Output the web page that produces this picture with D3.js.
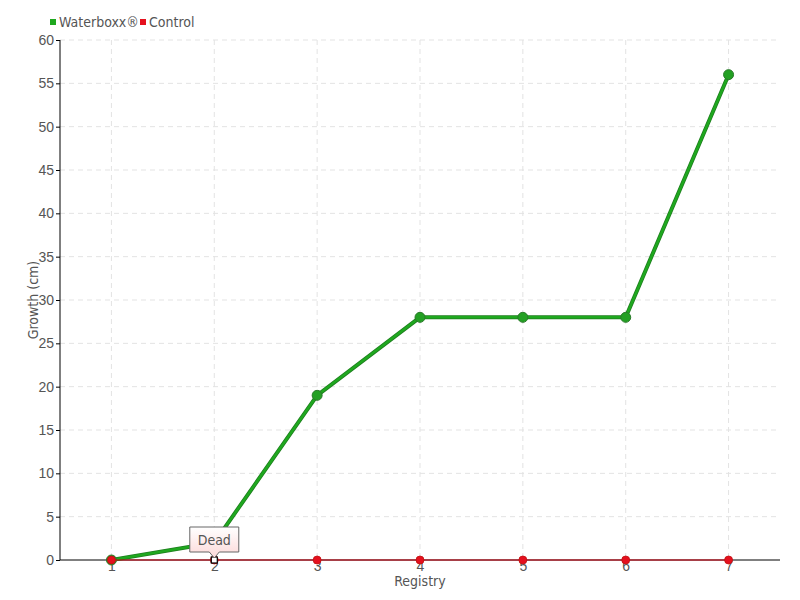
<!DOCTYPE html>
<html>
<head>
<meta charset="utf-8">
<script src="https://cdn.jsdelivr.net/npm/d3@7"></script>
<style>
  body { margin: 0; background: #fff; }
  svg { display: block; font-family: "DejaVu Sans Condensed", "DejaVu Sans", sans-serif; }
  .tick text { fill: #555; font-size: 14px; }
  .grid line { stroke: #e3e3e3; stroke-dasharray: 5,4; }
</style>
</head>
<body>
<div id="chart"></div>
<script>
var registry = [1, 2, 3, 4, 5, 6, 7];
var waterboxx = [0, 2, 19, 28, 28, 28, 56];
var control = [0, 0, 0, 0, 0, 0, 0];
var yTicks = [0, 5, 10, 15, 20, 25, 30, 35, 40, 45, 50, 55, 60];

var margin = {top: 40, right: 20, bottom: 40, left: 60};
var width = 800 - margin.left - margin.right;
var height = 600 - margin.top - margin.bottom;

var svg = d3.select("#chart").append("svg")
  .attr("width", 800).attr("height", 600)
  .append("g")
  .attr("transform", "translate(" + margin.left + "," + margin.top + ")");

var x = d3.scalePoint().domain(registry).range([0, width]).padding(0.5);
var y = d3.scaleLinear().domain([0, 60]).range([height, 0]);

// grid
svg.append("g").attr("class", "grid")
  .selectAll("line.h").data(yTicks.slice(1)).enter().append("line")
  .attr("x1", 0).attr("x2", width)
  .attr("y1", function(d){ return y(d); }).attr("y2", function(d){ return y(d); });
svg.append("g").attr("class", "grid")
  .selectAll("line.v").data(registry).enter().append("line")
  .attr("x1", function(d){ return x(d); }).attr("x2", function(d){ return x(d); })
  .attr("y1", 0).attr("y2", height);

// axes
var yAxis = svg.append("g").call(d3.axisLeft(y).tickValues(yTicks).tickSize(4).tickPadding(2));
yAxis.select(".domain").attr("stroke", "#000").attr("d", "M0,0V" + height);
yAxis.selectAll(".tick line").attr("stroke", "#000");

var xAxis = svg.append("g").attr("transform", "translate(0," + height + ")")
  .call(d3.axisBottom(x).tickSize(0).tickPadding(1));
xAxis.select(".domain").attr("stroke", "#000").attr("d", "M0,0H" + width);

svg.append("text").text("Registry")
  .attr("x", width / 2).attr("y", height + 26)
  .attr("text-anchor", "middle").attr("fill", "#555").style("font-size", "14px");
svg.append("text").text("Growth (cm)")
  .attr("transform", "rotate(-90)")
  .attr("x", -height / 2 + 0).attr("y", -22)
  .attr("text-anchor", "middle").attr("fill", "#555").style("font-size", "14px");

// series
var line = d3.line().x(function(d, i){ return x(registry[i]); }).y(function(d){ return y(d); });

svg.append("path").datum(waterboxx)
  .attr("fill", "none").attr("stroke", "#1e7d1e").attr("stroke-width", 4)
  .attr("d", line);
svg.append("path").datum(waterboxx)
  .attr("fill", "none").attr("stroke", "#1fa81f").attr("stroke-width", 2.5)
  .attr("d", line);
svg.selectAll("circle.wb").data(waterboxx).enter().append("circle")
  .attr("cx", function(d, i){ return x(registry[i]); })
  .attr("cy", function(d){ return y(d); })
  .attr("r", 5).attr("fill", "#23a023").attr("stroke", "#2a7a2a").attr("stroke-width", 1);

svg.append("path").datum(control)
  .attr("fill", "none").attr("stroke", "#d00010").attr("stroke-width", 1.2)
  .attr("d", line);
svg.selectAll("circle.ct").data(control).enter().append("circle")
  .attr("cx", function(d, i){ return x(registry[i]); })
  .attr("cy", function(d){ return y(d); })
  .attr("r", 4).attr("fill", "#e5101e").attr("stroke", "#c01010").attr("stroke-width", 0.8);

// highlighted point + tooltip
var hx = x(registry[1]), hy = y(control[1]);
svg.append("rect").attr("x", hx - 3).attr("y", hy - 3).attr("width", 6).attr("height", 6)
  .attr("fill", "#fff").attr("stroke", "#000").attr("stroke-width", 1.2);

var defs = d3.select("svg").append("defs");
var grad = defs.append("linearGradient").attr("id", "tipg").attr("x1", 0).attr("y1", 0).attr("x2", 0).attr("y2", 1);
grad.append("stop").attr("offset", "0%").attr("stop-color", "#ffffff");
grad.append("stop").attr("offset", "100%").attr("stop-color", "#fcd8d8");

var tw = 49, th = 25, tTop = hy - 33;
svg.append("path")
  .attr("d", "M" + (hx - tw / 2) + "," + tTop + "h" + tw + "v" + th + "h" + (-(tw / 2 - 5)) +
    "l-5,6l-5,-6h" + (-(tw / 2 - 5)) + "z")
  .attr("fill", "url(#tipg)").attr("stroke", "#666").attr("stroke-width", 1);
svg.append("text").text("Dead")
  .attr("x", hx).attr("y", tTop + 18)
  .attr("text-anchor", "middle").attr("fill", "#555").style("font-size", "14px");

// legend
var legend = d3.select("svg").append("g").attr("transform", "translate(50,22)");
var items = [{name: "Waterboxx\u00AE", color: "#1fa81f", x: 0}, {name: "Control", color: "#e5101e", x: 90}];
items.forEach(function(it){
  legend.append("rect").attr("x", it.x).attr("y", -3).attr("width", 6).attr("height", 6).attr("fill", it.color);
  legend.append("text").text(it.name).attr("x", it.x + 9).attr("y", 5)
    .attr("fill", "#555").style("font-size", "14px");
});
</script>
</body>
</html>
